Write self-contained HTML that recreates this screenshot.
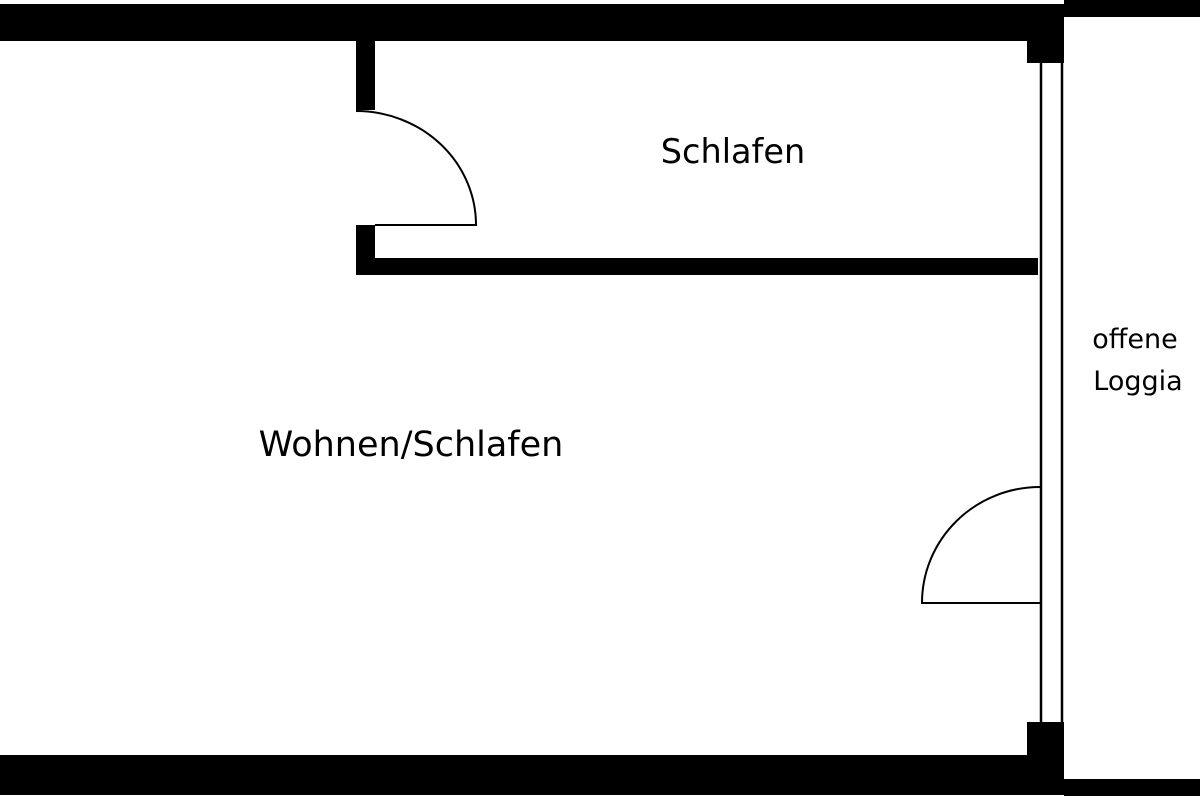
<!DOCTYPE html>
<html><head><meta charset="utf-8"><style>
html,body{margin:0;padding:0;background:#fff;width:1200px;height:800px;overflow:hidden}
svg{display:block}
text{font-family:"DejaVu Sans","Liberation Sans",sans-serif;fill:#000}
</style></head><body>
<svg width="1200" height="800" viewBox="0 0 1200 800">
<rect x="0" y="4" width="1064" height="37" fill="#000"/>
<rect x="1064" y="0" width="136" height="17" fill="#000"/>
<rect x="1027" y="40" width="37" height="23" fill="#000"/>
<rect x="1027" y="722" width="37" height="40" fill="#000"/>
<rect x="0" y="755" width="1064" height="40" fill="#000"/>
<rect x="1064" y="779" width="136" height="17" fill="#000"/>
<line x1="1041" y1="62" x2="1041" y2="723" stroke="#000" stroke-width="2.5"/>
<line x1="1062" y1="62" x2="1062" y2="723" stroke="#000" stroke-width="2.5"/>
<rect x="356" y="40" width="19" height="70" fill="#000"/>
<rect x="356" y="225" width="19" height="50" fill="#000"/>
<rect x="356" y="258" width="682" height="17" fill="#000"/>
<path d="M356,111 A120,114 0 0 1 476,225 L375,225" fill="none" stroke="#000" stroke-width="2"/>
<path d="M1040,487 A118,116 0 0 0 922,603 L1040,603" fill="none" stroke="#000" stroke-width="2"/>
<text x="733" y="163" font-size="33.5" text-anchor="middle">Schlafen</text>
<text x="411" y="456" font-size="35" text-anchor="middle">Wohnen/Schlafen</text>
<text x="1135" y="348" font-size="27" text-anchor="middle">offene</text>
<text x="1138" y="390" font-size="27" text-anchor="middle">Loggia</text>
</svg>
</body></html>
